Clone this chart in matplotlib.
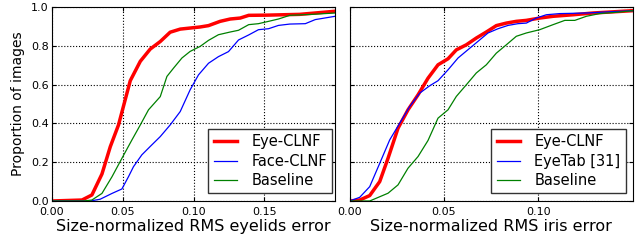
import matplotlib
matplotlib.use("Agg")
import matplotlib.pyplot as plt

# eyelids error (left panel)
lid_x_eye = [0.0, 0.0212, 0.0282, 0.0353, 0.0412, 0.047, 0.0553, 0.0624, 0.0694, 0.0765,
             0.0835, 0.0906, 0.1047, 0.1106, 0.1188, 0.1259, 0.133, 0.139, 0.152, 0.175, 0.2]
lid_y_eye = [0.0, 0.005, 0.031, 0.139, 0.28, 0.392, 0.62, 0.72, 0.783, 0.822,
             0.87, 0.886, 0.897, 0.904, 0.926, 0.938, 0.943, 0.957, 0.958, 0.962, 0.978]

lid_x_face = [0.0, 0.027, 0.034, 0.0424, 0.0494, 0.0541, 0.0576, 0.0635, 0.0694, 0.0765,
              0.0835, 0.0906, 0.0976, 0.1035, 0.1106, 0.1176, 0.1247, 0.1318, 0.139, 0.1459,
              0.153, 0.16, 0.168, 0.179, 0.186, 0.2]
lid_y_face = [0.0, 0.0, 0.009, 0.039, 0.062, 0.126, 0.177, 0.238, 0.281, 0.332,
              0.392, 0.461, 0.573, 0.65, 0.71, 0.744, 0.77, 0.83, 0.856, 0.883,
              0.888, 0.905, 0.912, 0.914, 0.935, 0.952]

lid_x_base = [0.0, 0.0224, 0.0282, 0.0353, 0.0424, 0.0494, 0.0565, 0.0624, 0.0682, 0.0765,
              0.0812, 0.0859, 0.0918, 0.0976, 0.1047, 0.1106, 0.1176, 0.1259, 0.1318, 0.139,
              0.1459, 0.153, 0.16, 0.168, 0.1835, 0.2]
lid_y_base = [0.0, 0.0, 0.005, 0.039, 0.125, 0.22, 0.315, 0.392, 0.47, 0.538,
              0.642, 0.685, 0.737, 0.771, 0.797, 0.828, 0.857, 0.871, 0.88, 0.909,
              0.914, 0.926, 0.938, 0.957, 0.962, 0.969]

# iris error (right panel)
iris_x_eye = [0.0, 0.0053, 0.0106, 0.0159, 0.0203, 0.0256, 0.0309, 0.0362, 0.0415, 0.0468,
              0.0521, 0.0565, 0.0618, 0.0671, 0.0724, 0.0777, 0.083, 0.0883, 0.0936, 0.1007,
              0.1078, 0.1184, 0.129, 0.15]
iris_y_eye = [0.0, 0.005, 0.028, 0.1, 0.22, 0.375, 0.47, 0.547, 0.633, 0.702,
              0.733, 0.779, 0.805, 0.84, 0.871, 0.904, 0.917, 0.926, 0.931, 0.943,
              0.952, 0.96, 0.969, 0.981]

iris_x_tab = [0.0, 0.0053, 0.0106, 0.0159, 0.0212, 0.0265, 0.0318, 0.0371, 0.0424, 0.0468,
              0.0521, 0.0574, 0.0627, 0.068, 0.0733, 0.0786, 0.0839, 0.0892, 0.0936, 0.0989,
              0.1042, 0.1113, 0.1254, 0.1396, 0.15]
iris_y_tab = [0.0, 0.019, 0.074, 0.194, 0.315, 0.401, 0.487, 0.556, 0.594, 0.62,
              0.676, 0.737, 0.78, 0.823, 0.866, 0.888, 0.905, 0.914, 0.917, 0.943,
              0.96, 0.966, 0.969, 0.976, 0.981]

iris_x_base = [0.0, 0.0106, 0.0203, 0.0256, 0.0309, 0.0362, 0.0415, 0.0468, 0.0521, 0.0565,
               0.0618, 0.0671, 0.0724, 0.0777, 0.083, 0.0883, 0.0936, 0.1007, 0.1078, 0.114,
               0.1193, 0.1254, 0.1325, 0.1431, 0.15]
iris_y_base = [0.0, 0.0, 0.04, 0.083, 0.169, 0.229, 0.312, 0.427, 0.47, 0.539,
               0.599, 0.66, 0.702, 0.762, 0.805, 0.849, 0.866, 0.883, 0.909, 0.931,
               0.931, 0.952, 0.966, 0.974, 0.981]

lid_xticks = [0.0, 0.05, 0.10, 0.15]
iris_xticks = [0.0, 0.05, 0.10]
yticks = [0.0, 0.2, 0.4, 0.6, 0.8, 1.0]


def style_axes(ax, xmax, xticks, xlabel):
    ax.set_xlim(0, xmax)
    ax.set_ylim(0, 1)
    ax.set_xticks(xticks)
    ax.set_xticklabels(["%.2f" % t for t in xticks], fontsize=8)
    ax.set_yticks(yticks)
    ax.set_yticklabels(["%.1f" % t for t in yticks], fontsize=8)
    ax.tick_params(direction="in", top=True, right=True, length=3)
    ax.tick_params(axis="x", pad=4)
    ax.tick_params(axis="y", pad=2.5)
    ax.grid(True, color="black", linestyle=":", linewidth=0.8)
    ax.set_xlabel(xlabel, fontsize=11.5, labelpad=2)
    for s in ax.spines.values():
        s.set_linewidth(0.8)


fig = plt.figure(figsize=(6.37, 2.41), dpi=100)
ax1 = fig.add_axes([0.0816, 0.166, 0.4444, 0.805])
ax2 = fig.add_axes([0.549, 0.166, 0.4443, 0.805])

ax1.plot(lid_x_eye, lid_y_eye, color="red", lw=2.5, label="Eye-CLNF")
ax1.plot(lid_x_face, lid_y_face, color="blue", lw=0.9, label="Face-CLNF")
ax1.plot(lid_x_base, lid_y_base, color="green", lw=0.9, label="Baseline")
style_axes(ax1, 0.2, lid_xticks, "Size-normalized RMS eyelids error")
ax1.set_ylabel("Proportion of images", fontsize=10, labelpad=4)

ax2.plot(iris_x_eye, iris_y_eye, color="red", lw=2.5, label="Eye-CLNF")
ax2.plot(iris_x_tab, iris_y_tab, color="blue", lw=0.9, label="EyeTab [31]")
ax2.plot(iris_x_base, iris_y_base, color="green", lw=0.9, label="Baseline")
style_axes(ax2, 0.15, iris_xticks, "Size-normalized RMS iris error")
ax2.set_yticklabels([])

for ax, anchor in ((ax1, (0.99, 0.04)), (ax2, (0.975, 0.04))):
    leg = ax.legend(loc="lower right", bbox_to_anchor=anchor, fontsize=10.5,
                    fancybox=False, edgecolor="#333333", framealpha=1,
                    handlelength=1.6, handletextpad=1.0, borderaxespad=0,
                    borderpad=0.35, labelspacing=0.3)
    leg.get_frame().set_linewidth(1.0)

fig.savefig("out.png", dpi=100)
